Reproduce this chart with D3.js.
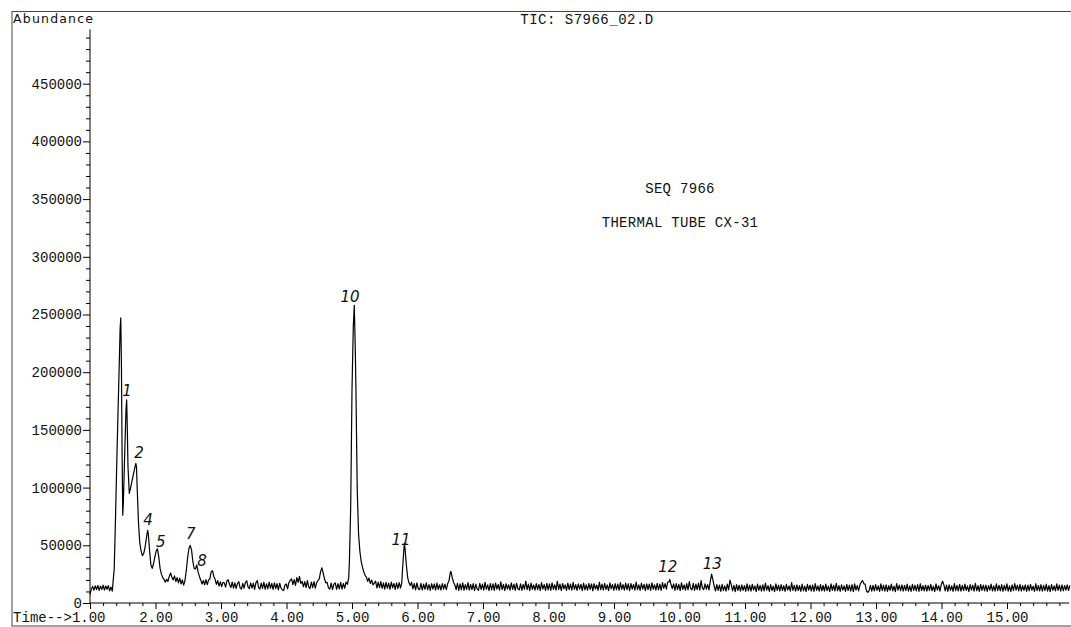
<!DOCTYPE html>
<html><head><meta charset="utf-8">
<script src="https://cdn.jsdelivr.net/npm/d3@7/dist/d3.min.js"></script>
<style>body{margin:0;background:#fff}svg{display:block}</style>
</head><body>
<svg id="chart" width="1071" height="627"></svg>
<script>
// ---- data: time (min), abundance (thousands) ----
// peak regions, read point by point
const peakPoints = [
[1.37,30],[1.39,75],[1.41,125],[1.43,170],[1.45,215],[1.46,238],[1.47,247],[1.48,205],[1.49,130],[1.50,76],[1.51,88],[1.53,130],[1.55,168],[1.56,176],[1.57,150],[1.58,118],[1.60,95],[1.62,100],[1.65,108],[1.68,116],[1.70,121],[1.71,118],[1.72,100],[1.74,70],[1.76,52],[1.78,45],[1.80,41],[1.82,43],[1.84,48],[1.86,56],[1.88,63],[1.89,60],[1.91,45],[1.93,33],[1.95,30],[1.97,34],[1.99,40],[2.01,45],[2.03,47],[2.05,40],[2.07,30],[2.09,25],[2.11,22],[2.13,20.5],[2.15,18],[2.17,20.5],[2.19,18.8],[2.21,23],[2.23,26],[2.25,22.5],[2.27,20],[2.29,23.5],[2.31,18.5],[2.33,22],[2.35,17.5],[2.37,21.5],[2.39,16.5],[2.41,20],[2.43,15.5],[2.45,19.5],[2.47,28],[2.49,39],[2.51,47],[2.53,50],[2.55,46],[2.57,36],[2.59,30],[2.61,29.5],[2.63,33],[2.65,27],[2.67,23],[2.69,20],[2.71,16.5],[2.73,19.5],[2.75,15.8],[2.77,20.2],[2.79,16],[2.81,19.8],[2.83,21],[2.85,27],[2.87,28],[2.89,23],[2.91,20.5],[2.93,16.2],[2.95,19.4],[2.97,14.6],[2.99,18.3],[3.01,14.2],[3.03,17.9],
[4.50,21],[4.52,27],[4.54,30.5],[4.56,26],[4.58,21],[4.60,17.5],
[4.95,22],[4.96,35],[4.98,83],[5.00,185],[5.02,240],[5.035,258],[5.05,220],[5.06,185],[5.08,98],[5.10,60],[5.12,45],[5.14,36],[5.16,31],[5.18,27],[5.20,24],[5.22,22.4],[5.24,18.8],[5.26,21.6],[5.28,16.9],[5.30,19.8],[5.32,15.7],
[5.76,17.5],[5.77,28],[5.79,45],[5.80,52],[5.81,47],[5.83,33],[5.85,22],[5.87,17.5],[5.89,15.2],
[6.48,19],[6.50,26],[6.51,27.5],[6.53,22],[6.55,18],[6.57,15.6],
[9.84,18.2],[9.85,20.5],[9.87,16.0],[9.89,12.4],
[10.47,19],[10.49,25],[10.51,20],[10.53,14.5]
];
// baseline noise runs, evenly spaced between the given start and end times
const noise1 = [7.5,11.8,14.4,11.1,14.9,11.6,15.2,10.9,14.5,11.8,15.4,11.2,14.7,11.9,15.1,10.6,13.8,10.3];
const noise2 = [17.5,13.8,19.2,20.1,16.0,13.4,18.2,12.9,17.4,12.6,16.8,18.5,13.2,12.1,17.0,12.8,17.6,19.3,13.9,12.4,17.5,12.9,17.2,11.8,17.6,19.4,13.6,12.0,17.3,12.7,18.0,11.9,16.6,12.3,18.1,12.8,17.0,11.7,17.4,12.5,16.8,11.4,17.1,13.0,11.3,10.8,15.6,16.5,12.2,17.8,19.6,21.0,16.0,20.3,15.2,22.0,17.8,23.1,16.9,18.8,14.1,18.5,13.4,19.4,13.9,12.5,18.2,13.3,18.5,12.8,17.6,19.5];
const noise3 = [17.9,13.1,12.0,17.2,11.5,16.3,17.4,11.8,16.7,12.3,17.8,12.1,16.9,12.8,18.1,16.2];
const noise4 = [17.2,18.9,13.0,18.0,13.4,18.6,12.6,17.5,12.0,17.8,12.8,17.3,11.9,18.1,13.2,16.9,11.7,17.4,12.5,17.6,13.0];
const noise5 = [17.9,12.2,16.8,11.4,17.4,12.3,11.5,17.1,11.2,16.3,11.9,17.5,11.6,16.0,11.0,16.7,12.1,16.5,11.1,17.2,11.8,15.8,11.2,16.9,12.0,16.4,11.5,16.6];
const noise6 = [11.6,17.0,10.9,16.5,11.4,17.4,11.1,15.9,11.8,17.7,11.2,16.2,11.6,16.8,10.8,16.4,12.2,11.0,17.1,11.7,16.3,11.1,17.8,11.9,15.7,10.7,16.9,11.3,16.5,10.9,17.3,12.1,16.0,11.2,18.4,11.6,16.2,10.8,16.7,12.0,15.8,11.1,17.5,11.7,16.3,10.9,17.0,12.2,11.4,16.6,11.0,16.1,11.9,18.9,11.5,16.4,10.7,17.2,11.8,15.6,11.2,16.8,11.6,16.2,10.8,17.6,12.1,15.9,11.0,17.1,11.4,16.5,10.9,17.4,11.9,15.8,11.1,18.7,11.7,16.3,10.8,16.9,12.2,15.7,10.9,17.2,11.5,16.4,11.2,17.8,11.8,16.0,11.0,16.6,12.1,16.2,10.7,17.3,11.4,15.8,11.1,17.0,11.9,16.5,10.6,16.7,12.0,15.6,10.9,18.0,11.6,16.3,11.2,17.1,11.7,15.7,10.8,17.4,12.2,16.0,11.0,16.8,11.3,16.4,10.9,17.6,11.8,15.9,11.1,17.2,11.5,16.5,10.7,16.9,12.0,16.1,11.2,18.1,11.6,15.7,10.9,17.3,12.1,16.2,10.8,16.6,11.7,16.4,11.0,17.5,11.9,15.8,11.1,17.0,11.4,16.3,10.9,17.7,12.6,16.8,12.0,18.2];
const noise7 = [16.5,10.9,16.9,11.5,16.2,10.7,17.4,11.8,15.7,11.1,16.8,11.3,18.5,12.6,11.4,17.0,11.0,16.4,11.6,17.2,11.2,19.4,12.9,11.5,16.6,12.0,16.0,11.4];
const noise8 = [10.4,15.9,10.9,15.5,10.1,16.2,10.7,14.8,10.2,16.4,11.3,19.8,15.7,10.5,15.3,9.9,16.0,10.8,15.4,10.2,15.8,11.0,15.0,10.0,16.6,10.6,15.5,10.3,16.1,11.1,14.9,9.8,16.3,10.9,15.2,10.2,15.7,10.5,17.2,11.2,15.1,10.1,16.0,10.7,14.7,9.9,16.5,11.0,15.4,10.4,15.9,10.8,15.0,10.0,16.2,11.2,14.8,10.2,17.7,10.9,15.3,10.3,15.8,10.7,15.1,10.1,16.4,10.6,14.7,9.9,16.1,11.1,15.5,10.4,15.6,10.0,16.8,10.9,14.9,10.3,16.0,10.5,15.2,10.2,16.3,10.8,14.6,9.8,16.5,11.0,15.4,10.4,17.0,10.6,15.1,10.1,15.7,11.2,14.8,10.0,16.2,10.7,15.5,10.3,15.9,9.9,16.6,11.1,15.0,10.5,15.6,18.0,19.5,16.8,16.2,10.6,9.3,10.8,15.3,10.2,15.2,10.4,16.0,11.0,14.9,10.1,16.5,10.7,15.4,10.3,15.8,10.0,15.1,10.9,16.3,10.5,14.7,9.9,16.9,11.1,15.5,10.6,15.7,10.2,15.2,10.8,16.4,10.3,14.8,10.0,16.1,11.0,15.4,10.4,15.9,10.1,16.7,10.7,15.0,10.5,15.6,10.2,15.3,10.9,16.2,10.6,14.6,9.8,16.5,11.1,15.1,10.3,16.0,18.9,15.7,10.5,15.5,10.0,15.8,10.9,14.9,10.1,16.8,10.8,15.3,10.4,16.1,10.2,15.2,10.7,16.4,11.0,14.7,9.9,15.9,11.2,15.4,10.3,17.1,10.6,15.0,10.1,16.2,10.9,15.5,10.5,15.6,10.0,15.1,11.1,16.3,10.4,14.8,10.2,16.6,10.8,15.3,10.6,16.0,10.1,15.2,11.0,16.5,10.3,14.9,9.9,15.8,10.7,16.9,11.2,15.4,10.5,16.1,10.2,15.0,10.9,15.7,10.0,15.5,10.6,16.2,11.1,14.6,10.1,16.7,10.7,15.2,10.4,15.9,10.2,15.3,10.8,16.4,10.3,15.1,9.9,16.0,11.0,14.8,10.5,16.6,10.9,15.5,10.2,15.7,10.6,15.0,11.1,15.8,10.8,15.2];
const baselineRuns = [
  [1.00, 1.34, noise1], [3.05, 4.48, noise2], [4.62, 4.93, noise3], [5.34, 5.74, noise4],
  [5.91, 6.46, noise5], [6.59, 9.82, noise6], [9.91, 10.45, noise7], [10.55, 15.96, noise8]
];
const peakLabels = [
  {text:"1",  t:1.565, v:184},
  {text:"2",  t:1.75,  v:130},
  {text:"4",  t:1.885, v:72},
  {text:"5",  t:2.08,  v:53},
  {text:"7",  t:2.54,  v:60},
  {text:"8",  t:2.71,  v:36},
  {text:"10", t:4.97,  v:265},
  {text:"11", t:5.75,  v:55},
  {text:"12", t:9.82,  v:31},
  {text:"13", t:10.50, v:34}
];
const yTickValues = [0,50000,100000,150000,200000,250000,300000,350000,400000,450000];
const xTickValues = [1,2,3,4,5,6,7,8,9,10,11,12,13,14,15];
const titleText = "TIC: S7966_02.D";
const noteLines = ["SEQ 7966","THERMAL TUBE CX-31"];
const yAxisTitle = "Abundance";
const xAxisPrefix = "Time-->";

// ---- assemble trace ----
const trace = peakPoints.slice();
baselineRuns.forEach(([t0,t1,vals])=>{
  const n = vals.length;
  vals.forEach((v,i)=>trace.push([t0+(t1-t0)*i/(n-1), v]));
});
trace.sort((a,b)=>a[0]-b[0]);

// ---- drawing ----
const svg = d3.select("#chart");
const mono = "'Liberation Mono','DejaVu Sans Mono',monospace";
const x = d3.scaleLinear().domain([1,16]).range([90,1072.5]);
const y = d3.scaleLinear().domain([0,500000]).range([603,26]);

svg.append("rect").attr("x",12).attr("y",11.5).attr("width",1070).attr("height",614.5)
  .attr("fill","none").attr("stroke","#444").attr("stroke-width",1);

// y axis
const yMinor = d3.range(10000,500000,10000).filter(v=>v%50000!==0);
const gyMinor = svg.append("g").attr("transform","translate(90,0)")
  .call(d3.axisLeft(y).tickValues(yMinor).tickSize(4).tickFormat(""));
gyMinor.select(".domain").remove();
const gy = svg.append("g").attr("transform","translate(90,0)")
  .call(d3.axisLeft(y).tickValues(yTickValues).tickSize(7).tickPadding(1).tickFormat(d3.format("d")));
gy.select(".domain").remove();
gy.selectAll("text").attr("font-family",mono).attr("font-size",14).attr("fill","#111");
svg.append("line").attr("x1",90).attr("x2",90).attr("y1",y(0)).attr("y2",y(497000))
  .attr("stroke","#000").attr("stroke-width",1);

// x axis
const xMinor = d3.range(1.2,15.9,0.2).filter(v=>Math.abs(v-Math.round(v))>0.01);
const gxMinor = svg.append("g").attr("transform","translate(0,603)")
  .call(d3.axisBottom(x).tickValues(xMinor).tickSize(3).tickFormat(""));
gxMinor.select(".domain").remove();
const gx = svg.append("g").attr("transform","translate(0,603)")
  .call(d3.axisBottom(x).tickValues(xTickValues).tickSize(6).tickPadding(3).tickFormat(d=>d.toFixed(2)));
gx.select(".domain").remove();
gx.selectAll("text").attr("font-family",mono).attr("font-size",14).attr("fill","#111");
gx.selectAll(".tick").filter(d=>d===1).select("text")
  .text(xAxisPrefix+"1.00").attr("text-anchor","end").attr("x",15);
svg.append("line").attr("x1",x(1)).attr("x2",x(15.95)).attr("y1",603).attr("y2",603)
  .attr("stroke","#000").attr("stroke-width",1);
svg.selectAll(".tick line").attr("stroke","#000");

// trace
const line = d3.line().x(d=>x(d[0])).y(d=>y(d[1]*1000));
svg.append("path").datum(trace).attr("d",line).attr("fill","none")
  .attr("stroke","#000").attr("stroke-width",1.2).attr("stroke-linejoin","round");

// texts
svg.append("text").attr("x",13).attr("y",23).attr("font-family","'DejaVu Sans',sans-serif")
  .attr("font-size",12.5).attr("textLength",80).attr("fill","#111").text(yAxisTitle);
svg.append("text").attr("x",587).attr("y",24).attr("text-anchor","middle").attr("font-family",mono)
  .attr("font-size",14).attr("fill","#111").attr("letter-spacing",0.5).text(titleText);
svg.append("text").attr("x",680).attr("y",193).attr("text-anchor","middle").attr("font-family",mono)
  .attr("font-size",14).attr("fill","#111").attr("letter-spacing",0.3).text(noteLines[0]);
svg.append("text").attr("x",680).attr("y",227).attr("text-anchor","middle").attr("font-family",mono)
  .attr("font-size",14).attr("fill","#111").attr("letter-spacing",0.3).text(noteLines[1]);

// handwritten peak labels
svg.append("g").selectAll("text").data(peakLabels).join("text")
  .attr("x",d=>x(d.t)).attr("y",d=>y(d.v*1000)).attr("text-anchor","middle")
  .attr("dominant-baseline","central").attr("font-family","'DejaVu Sans',sans-serif")
  .attr("font-style","italic").attr("font-weight",200).attr("font-size",15).attr("fill","#111")
  .text(d=>d.text);
</script>
</body></html>
